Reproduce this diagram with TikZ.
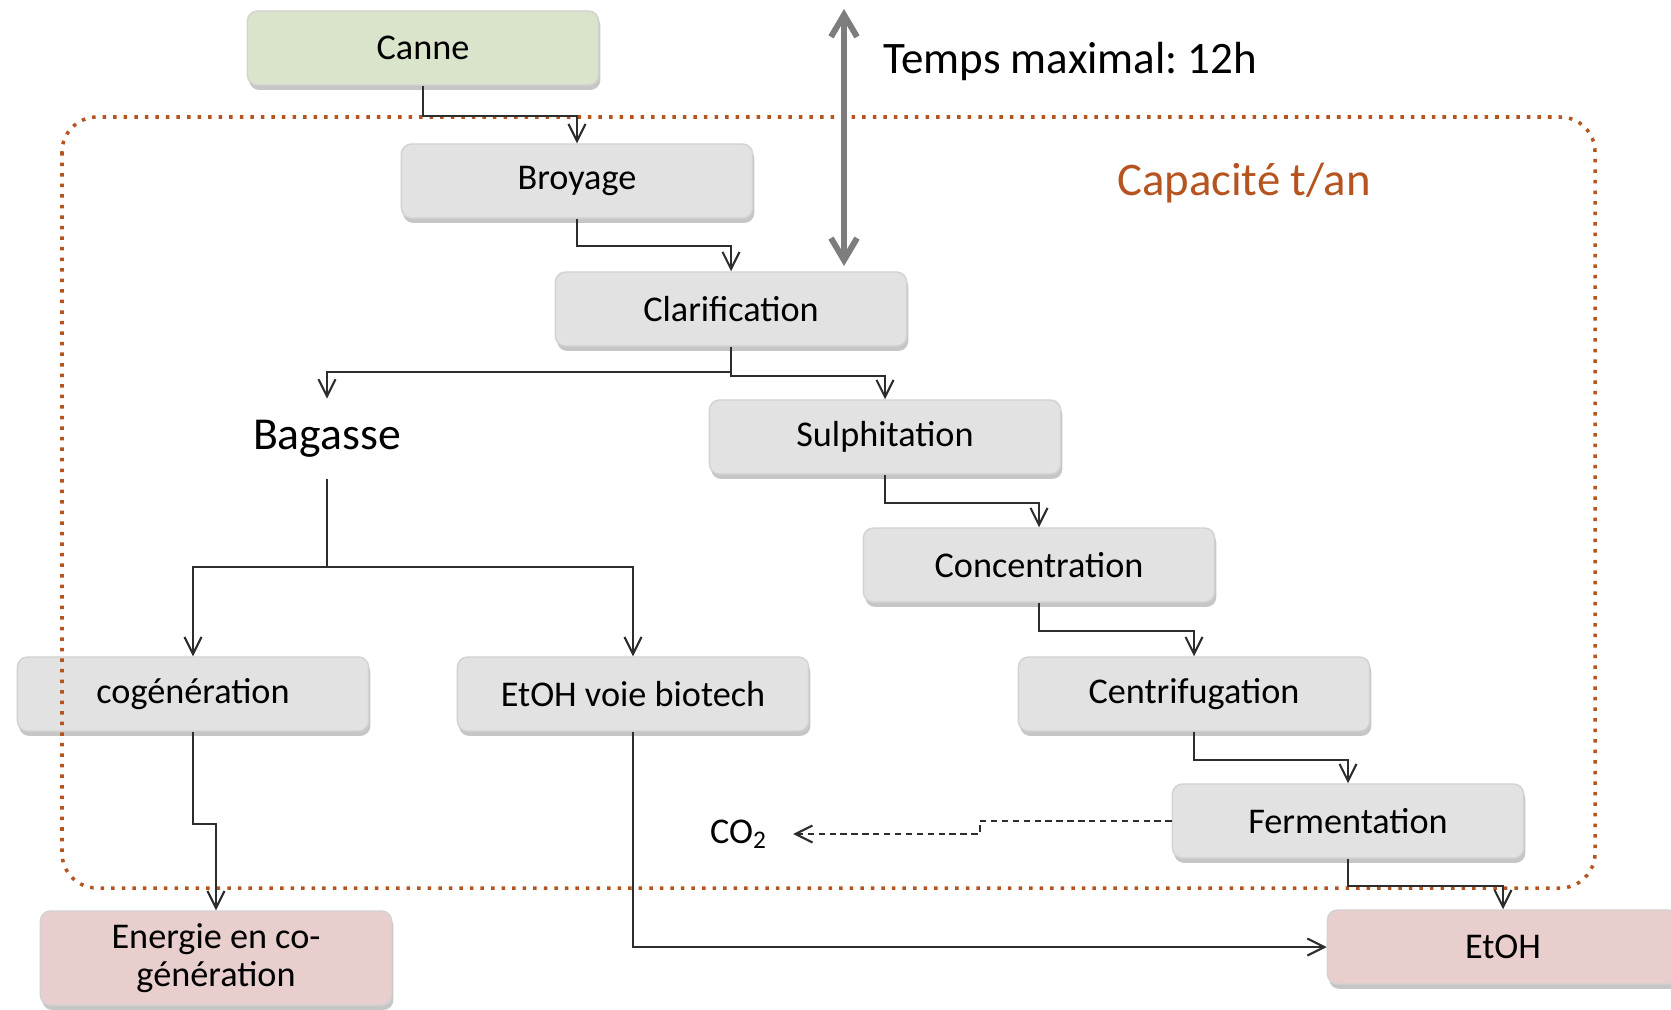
\documentclass[tikz,border=0pt]{standalone}
\usepackage{fontspec}
\setmainfont{Carlito}
\usepackage{xcolor}
\usepackage{tikz}
\usetikzlibrary{arrows.meta, positioning, calc, shadows}
\frenchspacing

\definecolor{grisclair}{RGB}{226,226,226}
\definecolor{vertcanne}{RGB}{217,228,203}
\definecolor{rosepale}{RGB}{233,206,206}
\definecolor{brique}{RGB}{182,84,32}
\definecolor{trait}{RGB}{45,45,45}
\definecolor{gristemps}{RGB}{125,125,125}

\begin{document}
\begin{tikzpicture}[
    x=0.01cm, y=-0.01cm,
    etape/.style={draw=gray!35, fill=grisclair, rounded corners=0.1cm,
        drop shadow={shadow xshift=0.5pt, shadow yshift=-1.4pt, opacity=0.45},
        align=center, font=\fontsize{10.3}{12.4}\selectfont,
        minimum width=3.51cm, minimum height=0.74cm, inner sep=2pt},
    entree/.style={etape, fill=vertcanne},
    produit/.style={etape, fill=rosepale},
    libre/.style={font=\fontsize{13}{15}\selectfont},
    fleche/.style={draw=trait, line width=0.6pt, -{Straight Barb[length=1.7mm, width=1.7mm]}},
    pointille/.style={fleche, dash pattern=on 1.8pt off 1.3pt},
    duree/.style={draw=gristemps, line width=1.7pt, {Straight Barb[length=2.2mm, width=2.6mm]}-{Straight Barb[length=2.2mm, width=2.6mm]}},
    cadre/.style={draw=brique, line width=1pt, dotted, rounded corners=0.35cm}
]
    \useasboundingbox (0,0) rectangle (1671,1009);

    % Chaine sucre
    \node[entree] (canne) at (423,48) {Canne};
    \node[etape] (broyage) at (577,181) {Broyage};
    \node[etape] (clarif) at (731,309) {Clarification};
    \node[etape] (sulph) at (885,437) {Sulphitation};
    \node[etape] (conc) at (1039,565) {Concentration};
    \node[etape] (centri) at (1194,694) {Centrifugation};
    \node[etape] (ferm) at (1348,821) {Fermentation};

    % Voie bagasse
    \node[libre, inner ysep=6pt] (bagasse) at (327,439) {Bagasse};
    \node[etape] (cogen) at (193,694) {cogénération};
    \node[etape] (biotech) at (633,694) {EtOH voie biotech};

    % Produits
    \node[produit, minimum height=0.94cm, font=\fontsize{10.3}{10.6}\selectfont] (energie) at (216,958) {Energie en co-\\génération};
    \node[produit] (etoh) at (1503,947) {EtOH};
    \node[font=\fontsize{10.3}{12.4}\selectfont, inner xsep=7pt] (co2) at (739,834) {CO\textsubscript{2}};

    % Cadre et annotations
    \draw[cadre] (62,117) rectangle (1595,888);
    \node[font=\fontsize{13.3}{15}\selectfont, text=brique] (capa) at (1244,183) {Capacité t/an};
    \coordinate (t0) at (844,9);
    \coordinate (t1) at (844,266);
    \draw[duree] (t0) -- (t1);
    \node[font=\fontsize{12.8}{15}\selectfont, anchor=west] (temps) at (871,61) {Temps maximal: 12h};

    % Liaisons
    \draw[fleche] (canne.south) -- ++(0,30) -| (broyage.north);
    \draw[fleche] (broyage.south) -- ++(0,27) -| (clarif.north);
    \draw[fleche] (clarif.south) -- ++(0,25) -| (bagasse.north);
    \draw[fleche] (clarif.south) -- ++(0,29) -| (sulph.north);
    \draw[fleche] (sulph.south) -- ++(0,28) -| (conc.north);
    \draw[fleche] (conc.south) -- ++(0,28) -| (centri.north);
    \draw[fleche] (centri.south) -- ++(0,28) -| (ferm.north);
    \draw[fleche] (ferm.south) -- ++(0,27) -| (etoh.north);
    \draw[pointille] (ferm.west) -- ++(-192,0) |- (co2.east);

    \draw[draw=trait, line width=0.6pt] (bagasse.south) -- ++(0,88) coordinate (bsplit);
    \draw[fleche] (bsplit) -| (cogen.north);
    \draw[fleche] (bsplit) -| (biotech.north);
    \draw[fleche] (cogen.south) -- ++(0,92) -| (energie.north);
    \draw[fleche] (biotech.south) |- (etoh.west);

\end{tikzpicture}
\end{document}
